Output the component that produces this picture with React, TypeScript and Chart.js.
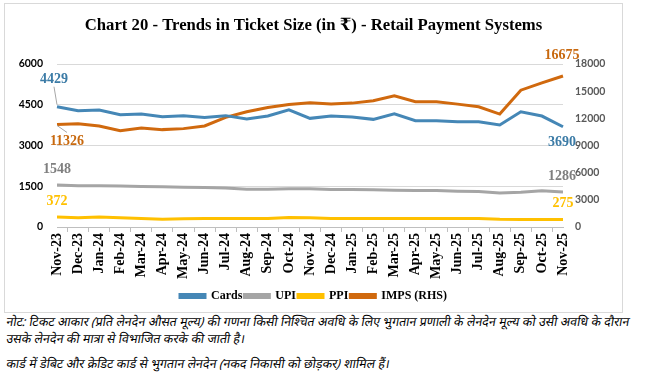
import React, { useEffect, useRef } from "react";
import { Chart, registerables } from "chart.js";

Chart.register(...registerables);

const categories = [
  "Nov-23", "Dec-23", "Jan-24", "Feb-24", "Mar-24", "Apr-24", "May-24", "Jun-24",
  "Jul-24", "Aug-24", "Sep-24", "Oct-24", "Nov-24", "Dec-24", "Jan-25", "Feb-25",
  "Mar-25", "Apr-25", "May-25", "Jun-25", "Jul-25", "Aug-25", "Sep-25", "Oct-25", "Nov-25",
];

const cards = [4429, 4280, 4305, 4134, 4160, 4061, 4100, 4035, 4100, 3975, 4085, 4317, 4000, 4085, 4050, 3963, 4170, 3915, 3915, 3878, 3878, 3756, 4244, 4085, 3690];
const upi = [1548, 1520, 1515, 1510, 1490, 1480, 1460, 1450, 1440, 1390, 1390, 1410, 1410, 1380, 1380, 1370, 1350, 1340, 1340, 1320, 1310, 1250, 1280, 1330, 1286];
const ppi = [372, 340, 365, 340, 315, 285, 305, 310, 310, 310, 315, 350, 345, 310, 310, 310, 310, 310, 310, 310, 310, 285, 280, 280, 275];
const imps = [11326, 11415, 11160, 10646, 10940, 10756, 10866, 11160, 12106, 12732, 13204, 13533, 13720, 13573, 13683, 13939, 14488, 13829, 13829, 13573, 13280, 12476, 15110, 15915, 16675];

const leftTicks = [0, 1500, 3000, 4500, 6000];
const rightTicks = [0, 3000, 6000, 9000, 12000, 15000, 18000];

const title = "Chart 20 - Trends in Ticket Size (in ₹) - Retail Payment Systems";
const noteLine1 = "नोट: टिकट आकार (प्रति लेनदेन औसत मूल्य) की गणना किसी निश्चित अवधि के लिए भुगतान प्रणाली के लेनदेन मूल्य को उसी अवधि के दौरान";
const noteLine2 = "उसके लेनदेन की मात्रा से विभाजित करके की जाती है।";
const noteLine3 = "कार्ड में डेबिट और क्रेडिट कार्ड से भुगतान लेनदेन (नकद निकासी को छोड़कर) शामिल हैं।";

const SERIF = "'Liberation Serif', 'DejaVu Serif', serif";
const SANS = "Lato, 'Open Sans', sans-serif";

// label placement (style only): dataset index, point index, offsets, colour, leader
const labelSpecs = [
  { ds: 0, i: 0, dx: -3, dy: -27, color: "#3B7BA6", leader: true },
  { ds: 3, i: 0, dx: 10, dy: 17, color: "#C8690F", leader: true },
  { ds: 1, i: 0, dx: 0, dy: -16, color: "#7F7F7F", leader: false },
  { ds: 2, i: 0, dx: 0, dy: -16, color: "#FFC000", leader: false },
  { ds: 3, i: 24, dx: -1, dy: -21, color: "#C8690F", leader: false },
  { ds: 0, i: 24, dx: -1, dy: 16, color: "#3B7BA6", leader: false },
  { ds: 1, i: 24, dx: -1, dy: -16, color: "#7F7F7F", leader: false },
  { ds: 2, i: 24, dx: 0, dy: -16, color: "#FFC000", leader: false },
];

const labelPlugin = {
  id: "pointLabels",
  afterDatasetsDraw(chart: any) {
    const ctx = chart.ctx;
    ctx.save();
    ctx.font = `bold 14px ${SERIF}`;
    ctx.textAlign = "center";
    ctx.textBaseline = "middle";
    for (const s of labelSpecs) {
      const meta = chart.getDatasetMeta(s.ds);
      const el = meta.data[s.i];
      if (!el) continue;
      const v = chart.data.datasets[s.ds].data[s.i];
      const lx = el.x + s.dx;
      const ly = el.y + s.dy;
      if (s.leader) {
        ctx.strokeStyle = "#A6A6A6";
        ctx.lineWidth = 1;
        ctx.beginPath();
        if (s.dy < 0) {
          ctx.moveTo(lx, ly + 7);
          ctx.lineTo(el.x, el.y - 2);
        } else {
          ctx.moveTo(el.x, el.y + 1);
          ctx.lineTo(lx, ly - 9);
        }
        ctx.stroke();
      }
      ctx.fillStyle = s.color;
      ctx.fillText(String(v), lx, ly);
    }
    ctx.restore();
  },
};

const noteLineStyle: React.CSSProperties = {
  transform: "skewX(-10deg)",
  transformOrigin: "0 100%",
  whiteSpace: "nowrap",
};

export default function App() {
  const ref = useRef<HTMLCanvasElement | null>(null);

  useEffect(() => {
    document.body.style.margin = "0";
    if (!ref.current) return;
    const chart = new Chart(ref.current, {
      type: "line",
      data: {
        labels: categories,
        datasets: [
          { label: "Cards", data: cards, borderColor: "#4587B6", backgroundColor: "#4587B6", yAxisID: "y", borderWidth: 3, pointRadius: 0, tension: 0 },
          { label: "UPI", data: upi, borderColor: "#A5A5A5", backgroundColor: "#A5A5A5", yAxisID: "y", borderWidth: 3, pointRadius: 0, tension: 0 },
          { label: "PPI", data: ppi, borderColor: "#FFC000", backgroundColor: "#FFC000", yAxisID: "y", borderWidth: 3, pointRadius: 0, tension: 0 },
          { label: "IMPS (RHS)", data: imps, borderColor: "#D0690E", backgroundColor: "#D0690E", yAxisID: "y1", borderWidth: 3, pointRadius: 0, tension: 0 },
        ],
      },
      options: {
        animation: false,
        responsive: false,
        maintainAspectRatio: false,
        layout: { padding: { left: 0, right: 0, top: 0, bottom: 0 } },
        plugins: {
          title: {
            display: true,
            text: title,
            color: "#000000",
            font: { family: SERIF, size: 16.7, weight: "bold" },
            padding: { top: 12, bottom: 28 },
          },
          legend: {
            position: "bottom",
            labels: {
              boxWidth: 25,
              boxHeight: 3,
              padding: 2,
              color: "#000000",
              font: { family: SERIF, size: 12, weight: "bold" },
            },
          },
          tooltip: { enabled: false },
        },
        scales: {
          x: {
            grid: { display: true, drawOnChartArea: false, drawTicks: true, tickLength: 5, offset: true, color: "#BFBFBF" },
            border: { display: true, color: "#BFBFBF" },
            ticks: {
              minRotation: 90,
              maxRotation: 90,
              autoSkip: false,
              padding: 1,
              color: "#000000",
              font: { family: SERIF, size: 14, weight: "bold" },
            },
            afterFit: (s: any) => { s.height = 61; },
          },
          y: {
            position: "left",
            min: 0,
            max: 6000,
            afterBuildTicks: (s: any) => { s.ticks = leftTicks.map((v) => ({ value: v })); },
            grid: { color: "#D9D9D9", drawTicks: false },
            border: { display: false },
            ticks: {
              padding: 14,
              color: "#000000",
              font: { family: SANS, size: 10.5, weight: "bold" },
              callback: (v: any) => String(v),
            },
            afterFit: (s: any) => { s.width = 52; },
          },
          y1: {
            position: "right",
            min: 0,
            max: 18000,
            afterBuildTicks: (s: any) => { s.ticks = rightTicks.map((v) => ({ value: v })); },
            grid: { drawOnChartArea: false, drawTicks: false },
            border: { display: false },
            ticks: {
              padding: 12,
              color: "#595959",
              font: { family: SANS, size: 10.5, weight: "bold" },
              callback: (v: any) => String(v),
            },
            afterFit: (s: any) => { s.width = 59; },
          },
        },
      },
      plugins: [labelPlugin],
    });
    return () => chart.destroy();
  }, []);

  return (
    <div style={{ position: "absolute", left: 0, top: 0, width: 654, height: 383, background: "#fff" }}>
      <div
        style={{
          position: "absolute",
          left: 4,
          top: 3,
          width: 619,
          height: 310,
          boxSizing: "border-box",
          border: "1px solid #D9D9D9",
        }}
      >
        <canvas ref={ref} width={617} height={308} style={{ display: "block" }} />
      </div>
      <div
        style={{
          position: "absolute",
          left: 5,
          top: 313,
          width: 640,
          fontFamily: "'Noto Sans', 'DejaVu Sans', sans-serif",
          fontStyle: "italic",
          fontSize: 12.5,
          lineHeight: "17px",
          color: "#000",
        }}
      >
        <div style={noteLineStyle}>{noteLine1}</div>
        <div style={noteLineStyle}>{noteLine2}</div>
        <div style={{ ...noteLineStyle, marginTop: 8 }}>{noteLine3}</div>
      </div>
    </div>
  );
}
